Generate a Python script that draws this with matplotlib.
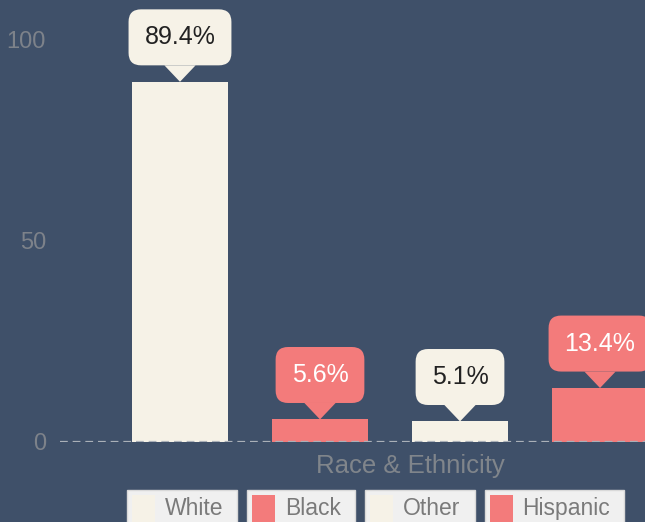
import numpy as np
import matplotlib.pyplot as plt
from matplotlib.patches import Rectangle

categories = ["White", "Black", "Other", "Hispanic"]
percent = [89.4, 5.6, 5.1, 13.4]
y_ticks = [0, 50, 100]
axis_title = "Race & Ethnicity"

BG = "#3f5069"
CREAM = "#f6f2e7"
SALMON = "#f37b7b"
bar_colors = [CREAM, SALMON, CREAM, SALMON]
label_colors = ["#222222", "white", "#222222", "white"]

plt.rcParams["font.family"] = ["Liberation Sans", "DejaVu Sans"]

W, H = 645, 522
fig = plt.figure(figsize=(W / 100, H / 100), dpi=100, facecolor=BG)
# axes runs past the right edge, the last bar gets cut like in the original
ax = fig.add_axes([60 / W, 80 / H, 660 / W, 442 / H])
ax.set_facecolor(BG)

x = np.arange(len(categories))
ax.bar(x, percent, width=0.69, color=bar_colors, zorder=2)
ax.set_xlim(-0.857, 3.857)
ax.set_ylim(0, 109.7)
ax.axhline(0, color="#aab0b8", lw=1.6, ls=(0, (3.5, 2.2)), zorder=3)

for s in ax.spines.values():
    s.set_visible(False)
ax.set_xticks([])
ax.set_yticks(y_ticks)
ax.tick_params(length=0, labelsize=17, labelcolor="#7d828a", pad=10)

# callout bubbles
for xi, v, c, tc in zip(x, percent, bar_colors, label_colors):
    ax.annotate(f"{v}%", xy=(xi, v), xytext=(0, 32), textcoords="offset points",
                ha="center", va="center", fontsize=18, color=tc, zorder=4,
                bbox=dict(boxstyle="round,pad=0.64,rounding_size=0.5", fc=c, ec="none"),
                arrowprops=dict(arrowstyle="wedge,tail_width=1.25", fc=c, ec="none",
                                shrinkA=0, shrinkB=0))

fig.text(410 / W, (H - 473) / H, axis_title, fontsize=18.5, color="#80858b",
         ha="center", va="baseline")

# legend boxes along the bottom
renderer = fig.canvas.get_renderer()
items = []
for cat in categories:
    t = fig.text(0, 0, cat, fontsize=16.5, color="#7a7a7a", va="baseline", zorder=5)
    items.append((t, t.get_window_extent(renderer).width))
box_ws = [5 + 23 + 10 + w + 14 for _, w in items]
gap = 10
x0 = 375.5 - (sum(box_ws) + gap * (len(items) - 1)) / 2
for (t, w), bw, c in zip(items, box_ws, bar_colors):
    fig.patches.append(Rectangle((x0 / W, -0.05), bw / W, 0.05 + (H - 490) / H,
                                 transform=fig.transFigure, fc="#f0f0f0", ec="#d9d9d9", lw=1))
    fig.patches.append(Rectangle(((x0 + 5) / W, -0.05), 23 / W, 0.05 + (H - 495) / H,
                                 transform=fig.transFigure, fc=c, ec="none", zorder=2))
    t.set_position(((x0 + 38) / W, (H - 515) / H))
    x0 += bw + gap

fig.savefig("out.png", dpi=100, facecolor=BG)
